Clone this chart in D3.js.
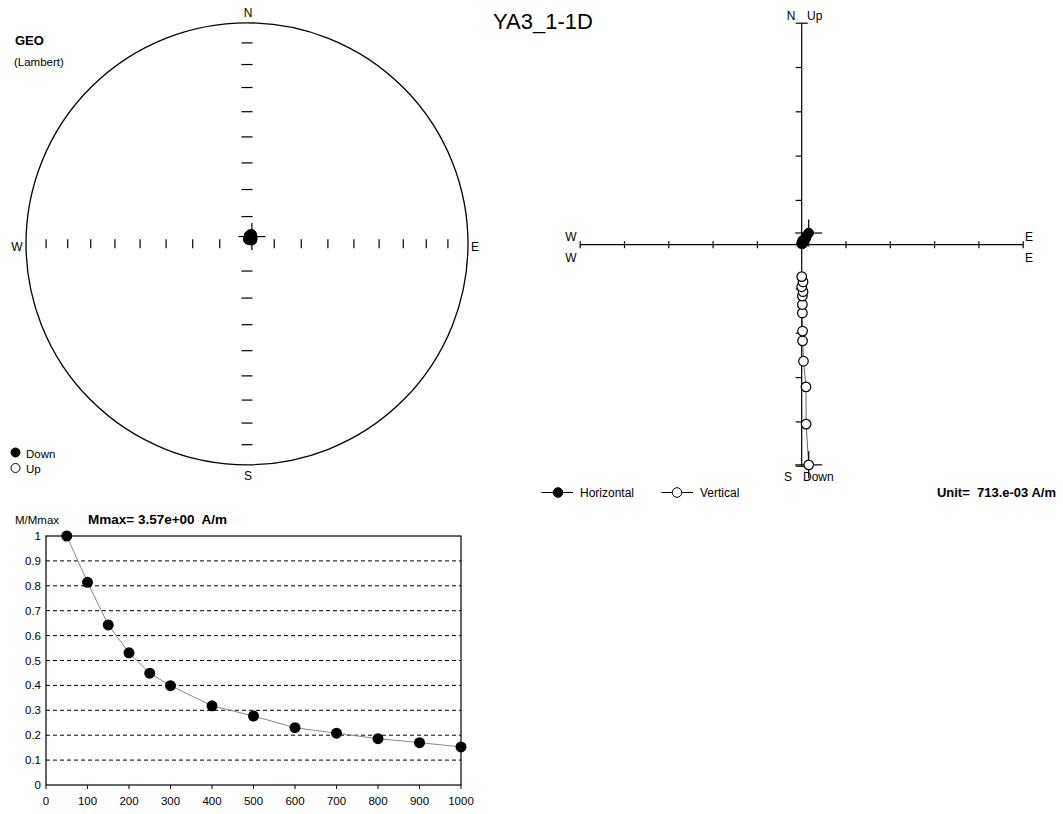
<!DOCTYPE html>
<html><head><meta charset="utf-8">
<script src="https://cdn.jsdelivr.net/npm/d3@7"></script>
<style>
body{margin:0;background:#fff;}
svg{display:block;font-family:"Liberation Sans",Arial,sans-serif;}
text{white-space:pre;fill:#000;}
</style></head><body>
<svg id="c" width="1063" height="814"></svg>
<script>
// ---------------- data ----------------
const title = "YA3_1-1D";
const steps = [50,100,150,200,250,300,400,500,600,700,800,900,1000];
const mRatio = [1.0,0.814,0.643,0.531,0.449,0.399,0.318,0.277,0.230,0.208,0.186,0.170,0.153];
// stereonet directions (deg)
const decl = [34,25,30,20,38,42,15,30,48,22,52,35,18];
const incl = [86.8,86.2,86.9,86.5,87.1,87.5,86.9,87.9,87.6,88.1,87.8,87.3,88.3];
// Zijderveld components in plot units (1 unit = 713e-3 A/m)
const east  = [0.158,0.100,0.097,0.040,0.020,0.020,0.015,0.015,0.015,0.030,0.000,0.030,0.000];
const north = [0.264,0.190,0.150,0.110,0.090,0.070,0.060,0.050,0.040,0.035,0.030,0.030,0.020];
const down  = [4.97,4.05,3.21,2.63,2.17,1.95,1.54,1.35,1.16,1.06,0.95,0.84,0.72];
const stereoTicks = [10,20,30,40,50,60,70,80];   // angular distance from centre
const zTicks = [-5,-4,-3,-2,-1,1,2,3,4,5];
const xTicks = [0,100,200,300,400,500,600,700,800,900,1000];
const yTicks = [0,0.1,0.2,0.3,0.4,0.5,0.6,0.7,0.8,0.9,1];
const gridTicks = [0.1,0.2,0.3,0.4,0.5,0.6,0.7,0.8,0.9];
const mmaxText = "Mmax= 3.57e+00  A/m";
const unitText = "Unit=  713.e-03 A/m";

const svg = d3.select("#c");
svg.append("rect").attr("width",1063).attr("height",814).attr("fill","#fff");

// ---------------- title ----------------
svg.append("text").attr("x",543).attr("y",29).attr("text-anchor","middle")
  .attr("font-size",22).text(title);

// ---------------- stereonet ----------------
const sc = {x:247, y:243.8, R:221};
const rS = d3.scaleLinear().domain([0,1]).range([0, sc.R]);
const eaR = theta => Math.SQRT2*Math.sin(theta/2*Math.PI/180); // theta = 90-inc
const st = svg.append("g");
st.append("circle").attr("cx",sc.x).attr("cy",sc.y).attr("r",sc.R)
  .attr("fill","none").attr("stroke","#000").attr("stroke-width",1.3);
stereoTicks.forEach(t=>{
  const r = rS(eaR(t));
  [-1,1].forEach(s=>{
    st.append("line").attr("x1",sc.x+s*r).attr("x2",sc.x+s*r)
      .attr("y1",sc.y-4.5).attr("y2",sc.y+4.5).attr("stroke","#000").attr("stroke-width",1.2);
    st.append("line").attr("y1",sc.y+s*r).attr("y2",sc.y+s*r)
      .attr("x1",sc.x-5.5).attr("x2",sc.x+5.5).attr("stroke","#000").attr("stroke-width",1.2);
  });
});
st.append("text").attr("x",248).attr("y",17).attr("text-anchor","middle").attr("font-size",12).text("N");
st.append("text").attr("x",248).attr("y",480).attr("text-anchor","middle").attr("font-size",12).text("S");
st.append("text").attr("x",17).attr("y",251).attr("text-anchor","middle").attr("font-size",12).text("W");
st.append("text").attr("x",475).attr("y",251).attr("text-anchor","middle").attr("font-size",12).text("E");
st.append("text").attr("x",15).attr("y",45).attr("font-size",13).attr("font-weight","bold").text("GEO");
st.append("text").attr("x",14).attr("y",66).attr("font-size",11.5).text("(Lambert)");
const sp = decl.map((d,i)=>{
  const r = rS(eaR(90-Math.abs(incl[i]))), a = d*Math.PI/180;
  return {x: sc.x + r*Math.sin(a), y: sc.y - r*Math.cos(a), down: incl[i]>=0};
});
// NRM cross
st.append("line").attr("x1",sp[0].x-13.5).attr("x2",sp[0].x+13.5).attr("y1",sp[0].y).attr("y2",sp[0].y).attr("stroke","#000").attr("stroke-width",1.2);
st.append("line").attr("x1",sp[0].x).attr("x2",sp[0].x).attr("y1",sp[0].y-13.5).attr("y2",sp[0].y+13.5).attr("stroke","#000").attr("stroke-width",1.2);
st.selectAll("circle.p").data(sp).enter().append("circle").attr("class","p")
  .attr("cx",d=>d.x).attr("cy",d=>d.y).attr("r",5)
  .attr("fill",d=>d.down?"#000":"#fff").attr("stroke","#000");
// legend
st.append("circle").attr("cx",15.5).attr("cy",452.5).attr("r",4.5).attr("fill","#000").attr("stroke","#000");
st.append("text").attr("x",26).attr("y",458).attr("font-size",11.5).text("Down");
st.append("circle").attr("cx",15.5).attr("cy",468).attr("r",4.5).attr("fill","#fff").attr("stroke","#000");
st.append("text").attr("x",26).attr("y",473).attr("font-size",11.5).text("Up");

// ---------------- Zijderveld ----------------
const zx = d3.scaleLinear().domain([-5,5]).range([580.2,1023.2]);
const zy = d3.scaleLinear().domain([-5,5]).range([466.2,23.2]);
const zg = svg.append("g");
const ox = zx(0), oy = zy(0);
zg.append("line").attr("x1",zx(-5)).attr("x2",zx(5)).attr("y1",oy).attr("y2",oy).attr("stroke","#000").attr("stroke-width",1.2);
zg.append("line").attr("x1",ox).attr("x2",ox).attr("y1",zy(5)).attr("y2",zy(-5)).attr("stroke","#000").attr("stroke-width",1.2);
zTicks.forEach(t=>{
  zg.append("line").attr("x1",zx(t)).attr("x2",zx(t)).attr("y1",oy-3.5).attr("y2",oy+3.5).attr("stroke","#000").attr("stroke-width",1.2);
  const end = Math.abs(t)===5;
  zg.append("line").attr("y1",zy(t)).attr("y2",zy(t)).attr("x1",ox-6).attr("x2",end?ox+6:ox).attr("stroke","#000").attr("stroke-width",1.2);
});
zg.append("text").attr("x",791).attr("y",20).attr("text-anchor","middle").attr("font-size",12).text("N");
zg.append("text").attr("x",807).attr("y",20).attr("font-size",12).text("Up");
zg.append("text").attr("x",571).attr("y",241).attr("text-anchor","middle").attr("font-size",12).text("W");
zg.append("text").attr("x",571).attr("y",262).attr("text-anchor","middle").attr("font-size",12).text("W");
zg.append("text").attr("x",1029).attr("y",241).attr("text-anchor","middle").attr("font-size",12).text("E");
zg.append("text").attr("x",1029).attr("y",262).attr("text-anchor","middle").attr("font-size",12).text("E");
zg.append("text").attr("x",788).attr("y",481).attr("text-anchor","middle").attr("font-size",12).text("S");
zg.append("text").attr("x",803).attr("y",481).attr("font-size",12).text("Down");
const hPts = east.map((e,i)=>({x:zx(e), y:zy(north[i])}));
const vPts = east.map((e,i)=>({x:zx(e), y:zy(-down[i])}));
const ln = d3.line().x(d=>d.x).y(d=>d.y);
zg.append("path").attr("d",ln(vPts)).attr("fill","none").attr("stroke","#666").attr("stroke-width",1);
zg.append("path").attr("d",ln(hPts)).attr("fill","none").attr("stroke","#666").attr("stroke-width",1);
[hPts[0], vPts[0]].forEach(p=>{
  zg.append("line").attr("x1",p.x-13.5).attr("x2",p.x+13.5).attr("y1",p.y).attr("y2",p.y).attr("stroke","#000").attr("stroke-width",1.2);
  zg.append("line").attr("x1",p.x).attr("x2",p.x).attr("y1",p.y-13.5).attr("y2",p.y+13.5).attr("stroke","#000").attr("stroke-width",1.2);
});
zg.selectAll("circle.v").data(vPts).enter().append("circle").attr("class","v")
  .attr("cx",d=>d.x).attr("cy",d=>d.y).attr("r",4.8).attr("fill","#fff").attr("stroke","#000").attr("stroke-width",1.2);
zg.selectAll("circle.h").data(hPts).enter().append("circle").attr("class","h")
  .attr("cx",d=>d.x).attr("cy",d=>d.y).attr("r",4.8).attr("fill","#000").attr("stroke","#000");
// legend
zg.append("line").attr("x1",541.5).attr("x2",573).attr("y1",492.5).attr("y2",492.5).attr("stroke","#000");
zg.append("circle").attr("cx",558).attr("cy",492.5).attr("r",4.8).attr("fill","#000").attr("stroke","#000");
zg.append("text").attr("x",580).attr("y",497).attr("font-size",12).text("Horizontal");
zg.append("line").attr("x1",661.5).attr("x2",693).attr("y1",492.5).attr("y2",492.5).attr("stroke","#000");
zg.append("circle").attr("cx",677).attr("cy",492.5).attr("r",4.8).attr("fill","#fff").attr("stroke","#000");
zg.append("text").attr("x",700).attr("y",497).attr("font-size",12).text("Vertical");
zg.append("text").attr("x",1056).attr("y",497).attr("text-anchor","end").attr("font-size",13).attr("font-weight","bold").text(unitText);

// ---------------- M/Mmax ----------------
const bx = d3.scaleLinear().domain([0,1000]).range([46,461]);
const by = d3.scaleLinear().domain([0,1]).range([785,536]);
const bg = svg.append("g");
gridTicks.forEach(t=>{
  bg.append("line").attr("x1",bx(0)).attr("x2",bx(1000)).attr("y1",by(t)).attr("y2",by(t))
    .attr("stroke","#000").attr("stroke-dasharray","4,3");
});
bg.append("rect").attr("x",bx(0)).attr("y",by(1)).attr("width",bx(1000)-bx(0)).attr("height",by(0)-by(1))
  .attr("fill","none").attr("stroke","#000").attr("stroke-width",1.2);
xTicks.forEach(t=>{
  bg.append("line").attr("x1",bx(t)).attr("x2",bx(t)).attr("y1",785).attr("y2",789).attr("stroke","#000");
  bg.append("text").attr("x",bx(t)).attr("y",805).attr("text-anchor","middle").attr("font-size",11.5).text(t);
});
yTicks.forEach(t=>{
  bg.append("text").attr("x",41).attr("y",by(t)+4).attr("text-anchor","end").attr("font-size",11.5).text(t);
});
bg.append("text").attr("x",15).attr("y",524).attr("font-size",11.5).text("M/Mmax");
bg.append("text").attr("x",88).attr("y",524).attr("font-size",13.5).attr("font-weight","bold").text(mmaxText);
const mp = steps.map((s,i)=>({x:bx(s), y:by(mRatio[i])}));
bg.append("path").attr("d",ln(mp)).attr("fill","none").attr("stroke","#888").attr("stroke-width",1);
bg.selectAll("circle").data(mp).enter().append("circle")
  .attr("cx",d=>d.x).attr("cy",d=>d.y).attr("r",5.5).attr("fill","#000");
</script></body></html>
